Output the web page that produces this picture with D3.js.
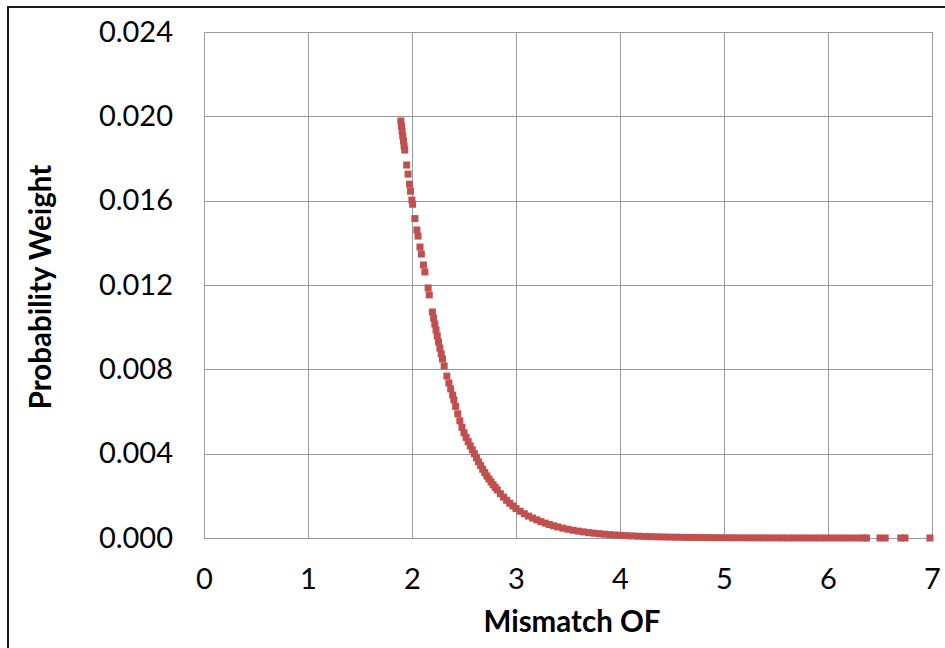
<!DOCTYPE html>
<html>
<head>
<meta charset="utf-8">
<script src="https://cdn.jsdelivr.net/npm/d3@7"></script>
<style>
  html, body { margin: 0; padding: 0; background: #fff; }
  svg { display: block; }
  text { font-family: Lato, "Open Sans", sans-serif; fill: #000; }
</style>
</head>
<body>
<svg id="chart" width="945" height="648"></svg>
<script>
// Mismatch objective function of each accepted model
const mismatch = [
  1.893, 1.899, 1.905, 1.911, 1.918, 1.924, 1.930,
  1.949, 1.962, 1.976, 1.986, 1.999, 2.006,
  2.028, 2.047, 2.058, 2.077, 2.090, 2.110, 2.124,
  2.155, 2.166, 2.196, 2.208, 2.219, 2.231, 2.243, 2.255, 2.268, 2.281, 2.293,
  2.309, 2.335, 2.355, 2.372, 2.391, 2.403,
  2.42, 2.44, 2.46, 2.48, 2.50, 2.52, 2.54, 2.56, 2.58, 2.60,
  2.62, 2.64, 2.66, 2.68, 2.70, 2.72, 2.74, 2.76, 2.78, 2.80, 2.82,
  2.85, 2.88, 2.91, 2.94, 2.97, 3.00,
  3.04, 3.08, 3.12, 3.16, 3.20, 3.24, 3.28, 3.32, 3.36,
  3.40, 3.45, 3.50, 3.55, 3.60, 3.65, 3.70,
  3.75, 3.80, 3.85, 3.90, 3.95, 4.00,
  4.06, 4.12, 4.18, 4.24, 4.30, 4.36, 4.42, 4.48, 4.54, 4.60,
  4.66, 4.72, 4.78, 4.84, 4.90, 4.96, 5.02, 5.08, 5.14, 5.20,
  5.26, 5.32, 5.38, 5.44, 5.50, 5.56, 5.62, 5.68, 5.74, 5.80,
  5.86, 5.92, 5.98, 6.04, 6.10, 6.16, 6.22, 6.28, 6.34, 6.37,
  6.50, 6.55, 6.70, 6.74, 6.98
];

// Probability weight assigned to each model
const weight = [
  0.01978, 0.01954, 0.01930, 0.01907, 0.01883, 0.01859, 0.01840,
  0.01769, 0.01726, 0.01678, 0.01645, 0.01603, 0.01583,
  0.01515, 0.01461, 0.01432, 0.01380, 0.01347, 0.01295, 0.01262,
  0.01186, 0.01153, 0.01072, 0.01043, 0.01015, 0.00987, 0.00958, 0.00930, 0.00901, 0.00873, 0.00849,
  0.00816, 0.00768, 0.00735, 0.00707, 0.00678, 0.00655,
  0.00624, 0.00589, 0.00556, 0.00525, 0.00499, 0.00477, 0.00457, 0.00437, 0.00418, 0.00400,
  0.00380, 0.00361, 0.00343, 0.00326, 0.00310, 0.00294, 0.00280, 0.00266, 0.00253, 0.00240, 0.00228,
  0.00210, 0.00194, 0.00179, 0.00165, 0.00152, 0.00140,
  0.00127, 0.00115, 0.00104, 0.000947, 0.000859, 0.000779, 0.000706, 0.000641, 0.000581,
  0.000527, 0.000467, 0.000414, 0.000367, 0.000326, 0.000289, 0.000256,
  0.000228, 0.000203, 0.000181, 0.000162, 0.000144, 0.000129,
  0.000112, 0.0000975, 0.0000849, 0.0000739, 0.0000644, 0.0000561, 0.0000488, 0.0000425, 0.0000370, 0.0000322,
  0.0000281, 0.0000244, 0.0000213, 0.0000185, 0.0000161, 0.0000140, 0.0000122, 0.0000107, 0.0000093, 0.0000081,
  0.0000070, 0.0000061, 0.0000053, 0.0000046, 0.0000040, 0.0000035, 0.0000031, 0.0000027, 0.0000023, 0.0000020,
  0.0000018, 0.0000015, 0.0000013, 0.0000012, 0.0000010, 0.0000009, 0.0000008, 0.0000007, 0.0000006, 0.0000005,
  0.0000004, 0.0000004, 0.0000003, 0.0000003, 0.0000002
];

const xTicks = [0, 1, 2, 3, 4, 5, 6, 7];
const yTicks = [0, 0.004, 0.008, 0.012, 0.016, 0.020, 0.024];
const xTitle = "Mismatch OF";
const yTitle = "Probability Weight";

const svg = d3.select("#chart");

// outer chart frame (runs past the right and bottom edges)
svg.append("rect")
  .attr("x", 8).attr("y", 7)
  .attr("width", 1000).attr("height", 700)
  .attr("fill", "none").attr("stroke", "#1c1c1c").attr("stroke-width", 2);

const plot = { left: 204, right: 932, top: 32, bottom: 538 };

const x = d3.scaleLinear().domain([0, 7]).range([plot.left, plot.right]);
const y = d3.scaleLinear().domain([0, 0.024]).range([plot.bottom, plot.top]);

const grid = svg.append("g").attr("stroke", "#9a9a9a").attr("stroke-width", 1);

// vertical gridlines
grid.selectAll("line.v").data(xTicks).join("line")
  .attr("class", "v")
  .attr("x1", d => Math.round(x(d)) + 0.5).attr("x2", d => Math.round(x(d)) + 0.5)
  .attr("y1", plot.top).attr("y2", plot.bottom);

// horizontal gridlines
grid.selectAll("line.h").data(yTicks).join("line")
  .attr("class", "h")
  .attr("y1", d => Math.round(y(d)) + 0.5).attr("y2", d => Math.round(y(d)) + 0.5)
  .attr("x1", plot.left).attr("x2", plot.right);

// tick labels via d3 axes, without tick marks or domain line
const xAxis = svg.append("g")
  .attr("transform", `translate(0,${plot.bottom})`)
  .call(d3.axisBottom(x).tickValues(xTicks).tickFormat(d3.format("d")).tickSize(0).tickPadding(30));
xAxis.select(".domain").remove();
xAxis.selectAll("text")
  .attr("font-family", "Lato, sans-serif").attr("font-size", 29).attr("fill", "#000");

const yAxis = svg.append("g")
  .attr("transform", `translate(${plot.left},0)`)
  .call(d3.axisLeft(y).tickValues(yTicks).tickFormat(d3.format(".3f")).tickSize(0).tickPadding(31));
yAxis.select(".domain").remove();
yAxis.selectAll("text")
  .attr("font-family", "Lato, sans-serif").attr("font-size", 29).attr("fill", "#000");

// axis titles
svg.append("text")
  .attr("x", 572).attr("y", 632)
  .attr("text-anchor", "middle")
  .attr("font-size", 29.5).attr("font-weight", "bold")
  .text(xTitle);

svg.append("text")
  .attr("transform", "translate(51,287) rotate(-90)")
  .attr("text-anchor", "middle")
  .attr("font-size", 29.5).attr("font-weight", "bold")
  .text(yTitle);

// square markers
const points = mismatch.map((m, i) => ({ m, w: weight[i] }));
const size = 7;
svg.append("g")
  .selectAll("rect").data(points).join("rect")
  .attr("x", d => x(d.m) - size / 2)
  .attr("y", d => y(d.w) - size / 2)
  .attr("width", size).attr("height", size)
  .attr("fill", "#c0504d");
</script>
</body>
</html>
